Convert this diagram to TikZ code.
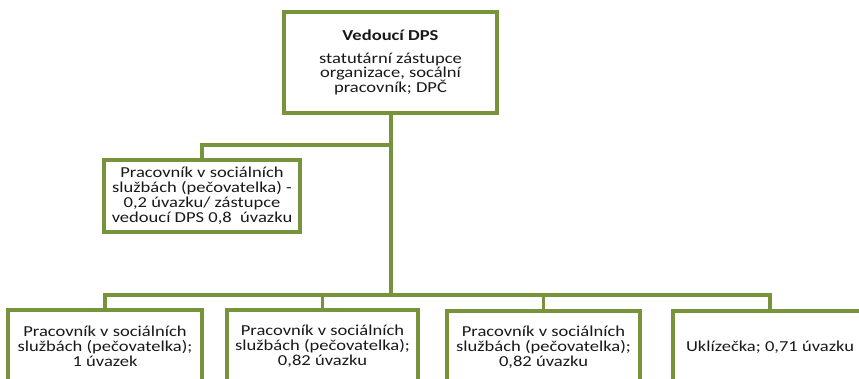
\documentclass[tikz,border=0pt]{standalone}
\usepackage{fontspec}
\setmainfont{Carlito}[FakeStretch=1.22]
\definecolor{olive}{RGB}{119,147,60}
\begin{document}
\begin{tikzpicture}[x=1pt,y=-1pt,
  box/.style={draw=olive,line width=3.5pt,fill=white,align=center,inner sep=0pt,
    font=\fontsize{15.2}{15}\selectfont,text=black!90},
  conn/.style={draw=olive,line width=3.2pt}]
\path[use as bounding box,clip] (0,0) rectangle (859,378);
\coordinate (bar) at (391,295);
\coordinate (abar) at (391,145);
\node[box,minimum width=213pt,minimum height=101pt] (top) at (390.5,62.5) {};
\node[box,minimum width=196pt,minimum height=72pt] (asst) at (202,196) {};
\node[box,minimum width=194pt,minimum height=72pt] (b1) at (105,346) {};
\node[box,minimum width=191pt,minimum height=72pt] (b2) at (322.5,346) {};
\node[box,minimum width=193pt,minimum height=72pt] (b3) at (543.5,347) {};
\node[box,minimum width=194pt,minimum height=72pt] (b4) at (770,347) {};
\draw[conn] (top.south -| bar) -- (bar);
\draw[conn] (abar) -| (asst.north);
\draw[conn] (b1.north) |- (bar) -| (b4.north);
\draw[conn] (b2.north) -- (b2.north |- bar);
\draw[conn] (b3.north) -- (b3.north |- bar);
\node[box,draw=none,fill=none] at (top.center) {{\bfseries Vedoucí DPS}\\[8pt]statutární zástupce\\[-1pt]organizace, socální\\[-1pt]pracovník; DPČ};
\node[box,draw=none,fill=none] at (asst.center) {Pracovník v sociálních\\službách (pečovatelka) -\\0,2 úvazku/ zástupce\\vedoucí DPS 0,8~ úvazku};
\node[box,draw=none,fill=none] at (b1.center) {Pracovník v sociálních\\službách (pečovatelka);\\1 úvazek};
\node[box,draw=none,fill=none] at (b2.center) {Pracovník v sociálních\\službách (pečovatelka);\\0,82 úvazku};
\node[box,draw=none,fill=none] at (b3.center) {Pracovník v sociálních\\službách (pečovatelka);\\0,82 úvazku};
\node[box,draw=none,fill=none] at (b4.center) {Uklízečka; 0,71 úvazku};
\end{tikzpicture}
\end{document}
